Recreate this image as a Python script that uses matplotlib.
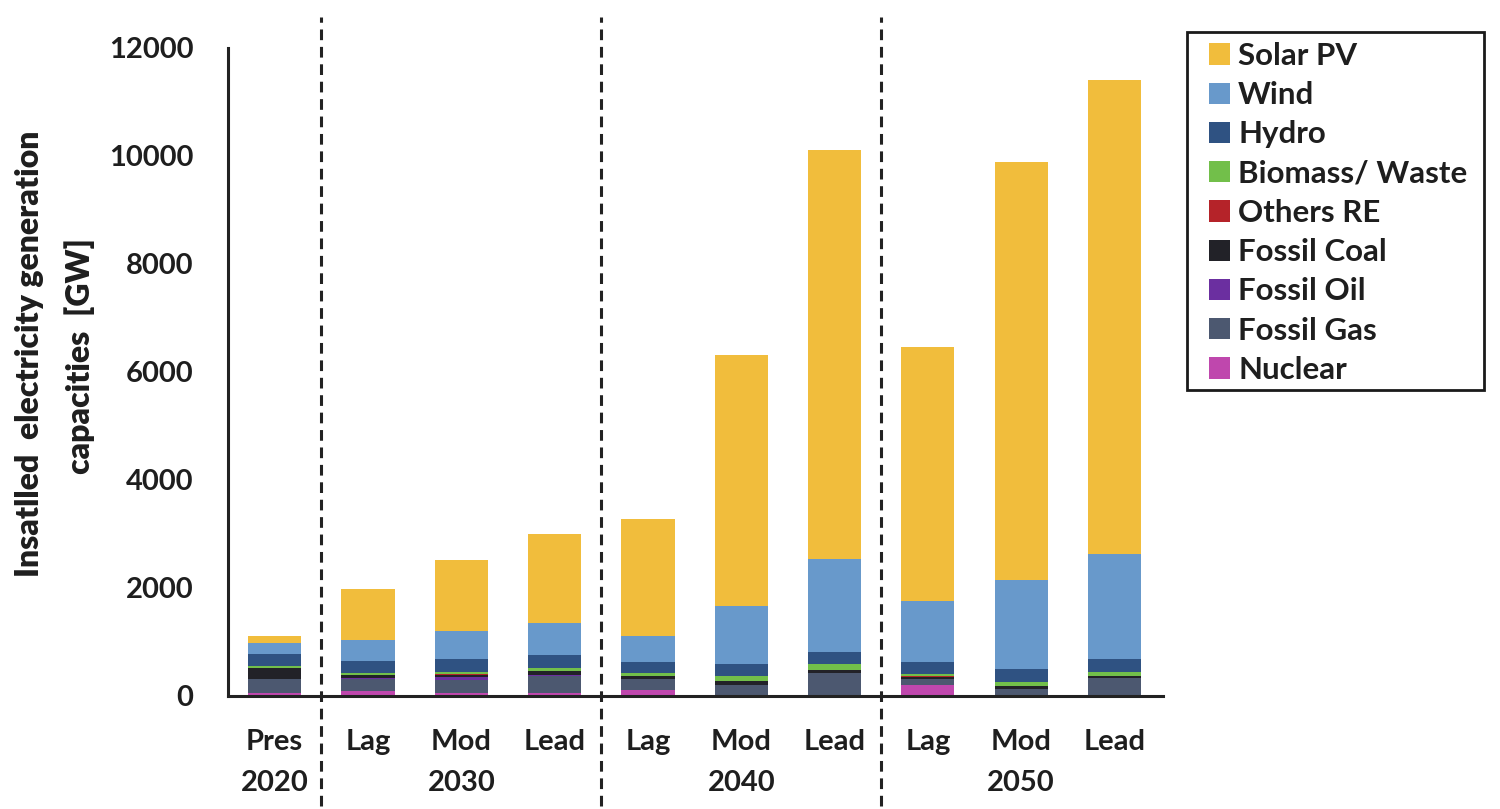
import matplotlib
matplotlib.use("Agg")
import matplotlib.pyplot as plt
import numpy as np
from matplotlib.patches import Patch, Rectangle

# ---- data ----
scenarios = ["Pres", "Lag", "Mod", "Lead", "Lag", "Mod", "Lead", "Lag", "Mod", "Lead"]
years = ["2020", "2030", "2040", "2050"]
year_pos = [0, 2, 5, 8]
separators = [0.5, 3.5, 6.5]

nuclear = [55, 100, 55, 50, 105, 5, 5, 200, 5, 5]
fossil_gas = [260, 220, 250, 327, 205, 200, 415, 110, 125, 320]
fossil_oil = [3, 5, 40, 5, 5, 5, 3, 5, 3, 3]
fossil_coal = [195, 55, 50, 74, 50, 60, 60, 45, 45, 45]
others_re = [5, 5, 5, 5, 5, 5, 5, 5, 5, 5]
biomass = [40, 50, 50, 60, 55, 90, 105, 50, 80, 60]
hydro = [215, 215, 235, 247, 210, 230, 215, 215, 230, 255]
wind = [205, 380, 525, 580, 480, 1070, 1720, 1125, 1650, 1940]
solar = [130, 960, 1310, 1645, 2155, 4655, 7582, 4715, 7747, 8777]

series = [
    ("Nuclear", nuclear, "#BF47AD"),
    ("Fossil Gas", fossil_gas, "#4C5870"),
    ("Fossil Oil", fossil_oil, "#6B2FA0"),
    ("Fossil Coal", fossil_coal, "#222228"),
    ("Others RE", others_re, "#B52329"),
    ("Biomass/ Waste", biomass, "#72BF4A"),
    ("Hydro", hydro, "#2F5282"),
    ("Wind", wind, "#6899CB"),
    ("Solar PV", solar, "#F1BD3C"),
]

plt.rcParams['font.family'] = ['Lato', 'DejaVu Sans']
plt.rcParams['font.weight'] = 'bold'
TXT = '#1e1e1e'

fig = plt.figure(figsize=(15, 8.09), dpi=100)
W, H = 1500, 809
ax = fig.add_axes([228 / W, 1 - 696 / H, (1163 - 228) / W, (696 - 48) / H])

x = np.arange(len(scenarios))
bottom = np.zeros(len(scenarios))
for name, vals, col in series:
    v = np.array(vals, dtype=float)
    ax.bar(x, v, bottom=bottom, width=0.57, color=col, edgecolor='none', zorder=2)
    bottom += v

ax.set_xlim(-0.5, 9.52)
ax.set_ylim(0, 12000)
ax.set_yticks(np.arange(0, 12001, 2000))
ax.tick_params(axis='y', length=0, pad=25, labelsize=21)
ax.set_xticks(x)
ax.set_xticklabels(scenarios)
ax.tick_params(axis='x', length=0, pad=24, labelsize=21)
for lab in ax.get_xticklabels() + ax.get_yticklabels():
    lab.set_fontweight('bold')
    lab.set_color(TXT)

for s in ['top', 'right']:
    ax.spines[s].set_visible(False)
for s in ['left', 'bottom']:
    ax.spines[s].set_linewidth(2.2)
    ax.spines[s].set_color('#222222')

trans = ax.get_xaxis_transform()
for yp, yr in zip(year_pos, years):
    ax.text(yp, -0.114, yr, transform=trans, ha='center', va='top',
            fontsize=21, fontweight='bold', color=TXT)

for sx in separators:
    ax.axvline(sx, ymin=(696 - 806) / 648, ymax=(696 - 17) / 648, color='#222222',
               linestyle=(0, (3.5, 2.2)), linewidth=2.2, clip_on=False, zorder=3)

fig.text(30 / W, 1 - 354 / H, "Insatlled  electricity generation", rotation=90,
         ha='center', va='center', fontsize=23, fontweight='heavy', color=TXT)
fig.text(80 / W, 1 - 356 / H, "capacities  [GW]", rotation=90,
         ha='center', va='center', fontsize=23, fontweight='heavy', color=TXT)

# legend frame
fig.patches.append(Rectangle((1187 / W, 1 - 390 / H), (1484 - 1187) / W, (390 - 32) / H,
                             transform=fig.transFigure, fill=False, edgecolor='#1a1a1a',
                             linewidth=2, zorder=5))

handles = [Patch(facecolor=c, edgecolor='none', label=n) for n, v, c in series[::-1]]
leg = fig.legend(handles=handles, loc='upper left', bbox_to_anchor=(1209 / W, 1 - 42 / H),
                 fontsize=22.5, frameon=False,
                 handlelength=0.67, handleheight=0.67, handletextpad=0.26,
                 labelspacing=0.36, borderpad=0, borderaxespad=0)
for t in leg.get_texts():
    t.set_fontweight('bold')
    t.set_color(TXT)

fig.savefig("out.png", dpi=100)
